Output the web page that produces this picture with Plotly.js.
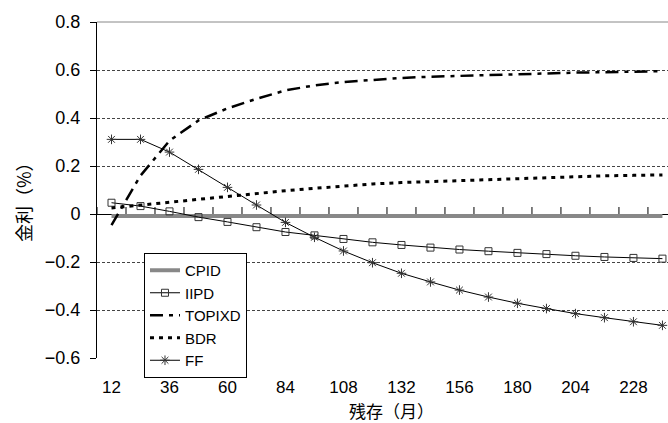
<!DOCTYPE html>
<html>
<head>
<meta charset="utf-8">
<script src="https://cdn.plot.ly/plotly-3.0.1.min.js"></script>
<style>html,body{margin:0;padding:0;background:#fff;}#chart{width:668px;height:423px;}</style>
</head>
<body>
<div id="chart"></div>
<script>
// Remaining maturity (months)
const months = [12, 24, 36, 48, 60, 72, 84, 96, 108, 120, 132, 144, 156, 168, 180, 192, 204, 216, 228, 240];
const tickLabels = ["12", "36", "60", "84", "108", "132", "156", "180", "204", "228"];

// Series values (%)
const cpid = [-0.008, -0.008, -0.008, -0.008, -0.008, -0.008, -0.008, -0.008, -0.008, -0.008,
              -0.008, -0.008, -0.008, -0.008, -0.008, -0.008, -0.008, -0.008, -0.008, -0.008];
const iipd = [0.047, 0.033, 0.011, -0.013, -0.033, -0.055, -0.075, -0.089, -0.104, -0.118,
              -0.129, -0.140, -0.148, -0.155, -0.162, -0.167, -0.174, -0.179, -0.183, -0.186];
const topixd = [-0.046, 0.160, 0.305, 0.390, 0.440, 0.480, 0.515, 0.536, 0.550, 0.560,
                0.567, 0.572, 0.576, 0.579, 0.583, 0.586, 0.589, 0.591, 0.594, 0.595];
const bdr = [0.025, 0.037, 0.050, 0.062, 0.075, 0.088, 0.097, 0.107, 0.117, 0.125,
             0.131, 0.135, 0.140, 0.145, 0.150, 0.154, 0.157, 0.159, 0.161, 0.163];
const ff = [0.311, 0.311, 0.258, 0.186, 0.111, 0.0375, -0.035, -0.097, -0.154, -0.203,
            -0.247, -0.283, -0.317, -0.346, -0.372, -0.394, -0.415, -0.432, -0.449, -0.464];

const xTitle = "残存（月）";
const yTitle = "金利（%）";

const latin = "Liberation Sans, Arial, sans-serif";
const cjk = "Noto Sans CJK JP, sans-serif";

const traces = [
  {name: "CPID", x: months, y: cpid, mode: "lines",
   line: {color: "#888888", width: 4}},
  {name: "IIPD", x: months, y: iipd, mode: "lines+markers",
   line: {color: "#000000", width: 1},
   marker: {symbol: "square-open", size: 7, color: "#333333", line: {width: 1}}},
  {name: "TOPIXD", x: months, y: topixd, mode: "lines",
   line: {color: "#000000", width: 2.5, dash: "13px,6px,4px,6px"}},
  {name: "BDR", x: months, y: bdr, mode: "lines",
   line: {color: "#000000", width: 3, dash: "4px,5px"}},
  {name: "FF", x: months, y: ff, mode: "lines+markers",
   line: {color: "#000000", width: 1},
   marker: {symbol: "asterisk-open", size: 8, color: "#333333", line: {width: 1, color: "#333333"}}}
];

// Category-boundary tick marks on the zero line (Excel style axis crossing at 0)
const halfStep = (months[1] - months[0]) / 2;
const boundaryTicks = months.map(function (m) {
  return {type: "line", xref: "x", yref: "y", ysizemode: "pixel", yanchor: 0,
          x0: m - halfStep, x1: m - halfStep, y0: 0, y1: 7,
          line: {color: "#000000", width: 1}, layer: "above"};
});

const layout = {
  width: 668, height: 423,
  margin: {l: 97, r: 0, t: 22, b: 65},
  paper_bgcolor: "#ffffff", plot_bgcolor: "#ffffff",
  font: {family: latin, size: 17, color: "#000000"},
  showlegend: true,
  legend: {
    x: 0.0823, y: 0.3125, xanchor: "left", yanchor: "top",
    bgcolor: "#ffffff", bordercolor: "#000000", borderwidth: 1,
    font: {family: latin, size: 15, color: "#000000"},
    itemwidth: 30
  },
  xaxis: {
    range: [6, 242.3], tickmode: "array",
    tickvals: tickLabels.map(Number), ticktext: tickLabels,
    ticks: "", ticklabelstandoff: 17,
    showline: false, showgrid: false, zeroline: false,
    tickfont: {family: latin, size: 17}
  },
  yaxis: {
    range: [-0.6, 0.8], dtick: 0.2, tick0: 0,
    showline: true, linecolor: "#000000", linewidth: 1,
    ticks: "outside", ticklen: 6, tickcolor: "#000000",
    ticklabelstandoff: 6,
    showgrid: true, gridcolor: "#444444", gridwidth: 1, griddash: "3px,2px",
    zeroline: true, zerolinecolor: "#000000", zerolinewidth: 1,
    tickfont: {family: latin, size: 18}
  },
  annotations: [
    {text: xTitle, xref: "paper", yref: "paper", x: 0.5158, y: -0.1548,
     xanchor: "center", yanchor: "middle", showarrow: false,
     font: {family: cjk, size: 17, color: "#000000"}},
    {text: yTitle, xref: "paper", yref: "paper", x: -0.1296, y: 0.479,
     xanchor: "center", yanchor: "middle", showarrow: false, textangle: -90,
     font: {family: cjk, size: 18, color: "#000000"}}
  ],
  shapes: [
    {type: "line", xref: "paper", yref: "paper", x0: 0, x1: 1, y0: 1, y1: 1,
     line: {color: "#888888", width: 1}}
  ].concat(boundaryTicks)
};

Plotly.newPlot("chart", traces, layout, {displayModeBar: false, staticPlot: true});
</script>
</body>
</html>
